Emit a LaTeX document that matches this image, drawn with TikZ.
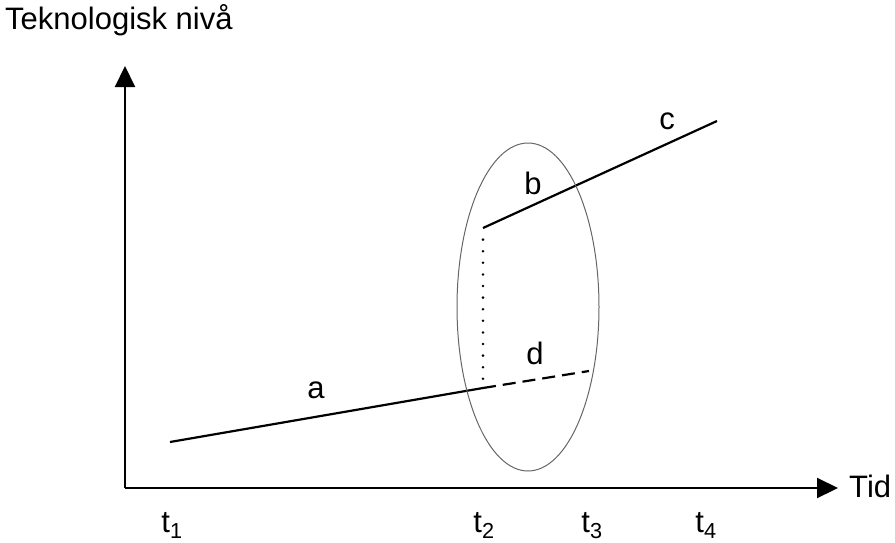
\documentclass[tikz,border=0pt]{standalone}
\usepackage{fontspec}
\setmainfont{Liberation Sans}
\usetikzlibrary{arrows.meta}
\tikzset{
  axis/.style={line width=2.2pt,-{Triangle[length=21pt,width=20pt]}},
  curve/.style={line width=2.2pt},
  lbl/.style={font=\fontsize{31}{33}\selectfont, inner sep=0pt},
}
\begin{document}
\begin{tikzpicture}[x=1pt,y=-1pt]
\useasboundingbox (0,0) rectangle (895,542);
\coordinate (O) at (125,488);
\coordinate (Ytip) at (125,66);
\coordinate (Xtip) at (838,488);
\draw[axis] (O) -- (Ytip);
\draw[axis] (O) -- (Xtip);
\node[lbl, anchor=base west] (ylab) at (5,29) {Teknologisk nivå};
\node[lbl, anchor=west] (xlab) at (849,486) {Tid};
% points
\coordinate (A0) at (170,442);
\coordinate (A1) at (483,388);
\coordinate (B0) at (483,228);
\coordinate (B1) at (717,121);
\coordinate (D1) at (589,371);
\coordinate (Dt) at (483,380);
\draw[curve] (A0) -- (A1);
\draw[curve] (B0) -- (B1);
\draw[curve, dash pattern=on 13pt off 7pt] (A1) -- (D1);
\draw[line width=2.8pt, line cap=round, dash pattern=on 0pt off 11.6pt] (B0) ++(0,11.6) -- (Dt);
\draw[gray!80!black, line width=1pt] (528,307) ellipse [x radius=71, y radius=164];
% labels
\node[lbl] (la) at (316,390) {a};
\node[lbl] (lb) at (533,183) {b};
\node[lbl] (lc) at (667,121) {c};
\node[lbl] (ld) at (535,353) {d};
\node[lbl, anchor=base] (t1) at (172,532) {t\textsubscript{1}};
\node[lbl, anchor=base] (t2) at (484,532) {t\textsubscript{2}};
\node[lbl, anchor=base] (t3) at (592,532) {t\textsubscript{3}};
\node[lbl, anchor=base] (t4) at (706,532) {t\textsubscript{4}};
\end{tikzpicture}
\end{document}
